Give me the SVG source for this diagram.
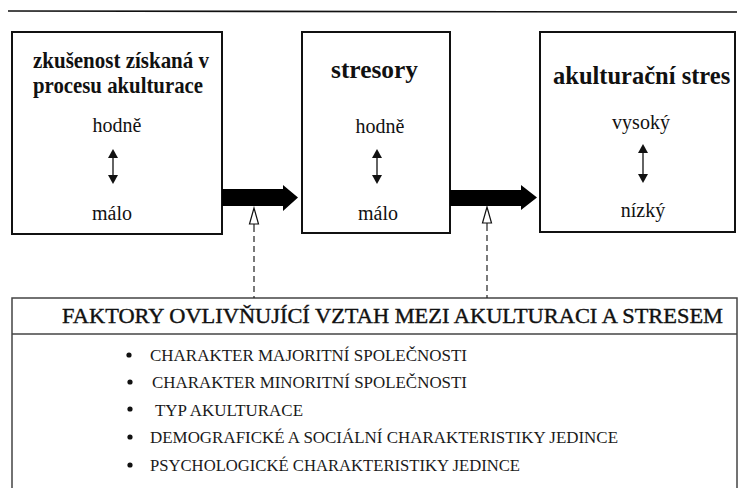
<svg xmlns="http://www.w3.org/2000/svg" width="739" height="488" viewBox="0 0 739 488">
<style>
.box{fill:#fff;stroke:#111;stroke-width:2}
.t{font-family:'Liberation Serif','DejaVu Serif','Times New Roman',serif;fill:#111}
.b{font-weight:bold}
.m{text-anchor:middle;font-size:20px}
.li{font-size:17px;fill:#1a1a1a}
.dbl{stroke:#222;stroke-width:1.4}
.hd{fill:#111}
.hol{fill:#fff;stroke:#111;stroke-width:1.2}
.dash{stroke:#222;stroke-width:1.2;stroke-dasharray:6 4}
</style>
<rect width="739" height="488" fill="#fff"/>
<line x1="8" y1="11" x2="737" y2="12" stroke="#111" stroke-width="1.6"/>

<g id="node-experience">
<rect class="box" x="12" y="32" width="210" height="202"/>
<text class="t b" x="33" y="68" font-size="24" textLength="176" lengthAdjust="spacingAndGlyphs">zkušenost získaná v</text>
<text class="t b" x="33" y="93" font-size="24" textLength="170" lengthAdjust="spacingAndGlyphs">procesu akulturace</text>
<text class="t m" x="117" y="132">hodně</text>
<line class="dbl" x1="113" y1="156" x2="113" y2="177"/>
<polygon class="hd" points="113,149 108,158 118,158"/>
<polygon class="hd" points="113,184 108,175 118,175"/>
<text class="t m" x="112" y="220">málo</text>
</g>

<g id="node-stressors">
<rect class="box" x="302" y="32" width="148" height="201"/>
<text class="t b" x="331" y="78" font-size="25" textLength="87" lengthAdjust="spacingAndGlyphs">stresory</text>
<text class="t m" x="380" y="133">hodně</text>
<line class="dbl" x1="377" y1="156" x2="377" y2="177"/>
<polygon class="hd" points="377,149 372,158 382,158"/>
<polygon class="hd" points="377,184 372,175 382,175"/>
<text class="t m" x="378" y="220">málo</text>
</g>

<g id="node-stress">
<rect class="box" x="540" y="32" width="195" height="200"/>
<text class="t b" x="553" y="84" font-size="24.5">akulturační stres</text>
<text class="t m" x="641" y="129">vysoký</text>
<line class="dbl" x1="643" y1="151" x2="643" y2="176"/>
<polygon class="hd" points="643,144 638,153 648,153"/>
<polygon class="hd" points="643,183 638,174 648,174"/>
<text class="t m" x="643" y="217">nízký</text>
</g>

<g id="node-factors">
<rect x="12" y="298" width="725" height="200" fill="#fff" stroke="#444" stroke-width="1.5"/>
<line x1="12" y1="334" x2="737" y2="334" stroke="#444" stroke-width="1.5"/>
<text class="t" x="62" y="323" font-size="22" stroke="#111" stroke-width="0.4" textLength="661" lengthAdjust="spacingAndGlyphs">FAKTORY OVLIVŇUJÍCÍ VZTAH MEZI AKULTURACI A STRESEM</text>
<circle cx="129" cy="355" r="2.6" fill="#111"/>
<text class="t li" x="150" y="361" textLength="317" lengthAdjust="spacingAndGlyphs">CHARAKTER MAJORITNÍ SPOLEČNOSTI</text>
<circle cx="130" cy="382" r="2.6" fill="#111"/>
<text class="t li" x="152" y="388" textLength="315" lengthAdjust="spacingAndGlyphs">CHARAKTER MINORITNÍ SPOLEČNOSTI</text>
<circle cx="130" cy="409" r="2.6" fill="#111"/>
<text class="t li" x="155" y="416" textLength="148" lengthAdjust="spacingAndGlyphs">TYP AKULTURACE</text>
<circle cx="130" cy="437" r="2.6" fill="#111"/>
<text class="t li" x="150" y="443" textLength="468" lengthAdjust="spacingAndGlyphs">DEMOGRAFICKÉ A SOCIÁLNÍ CHARAKTERISTIKY JEDINCE</text>
<circle cx="130" cy="465" r="2.6" fill="#111"/>
<text class="t li" x="150" y="471" textLength="370" lengthAdjust="spacingAndGlyphs">PSYCHOLOGICKÉ CHARAKTERISTIKY JEDINCE</text>
</g>

<g id="connectors">
<polygon fill="#000" points="222,189 283,189 283,185 298,197.5 283,211 283,206 222,206"/>
<polygon fill="#000" points="450,190 521,190 521,185 537,197.5 521,210 521,206 450,206"/>
<line x1="254" y1="224" x2="254" y2="232" stroke="#222" stroke-width="1.2"/>
<line class="dash" x1="254" y1="236" x2="254" y2="298"/>
<polygon class="hol" points="254,208 249.5,224 258.5,224"/>
<line x1="487" y1="223" x2="487" y2="231" stroke="#222" stroke-width="1.2"/>
<line class="dash" x1="487" y1="235" x2="487" y2="298"/>
<polygon class="hol" points="487,207 482.5,223 491.5,223"/>
</g>
</svg>
